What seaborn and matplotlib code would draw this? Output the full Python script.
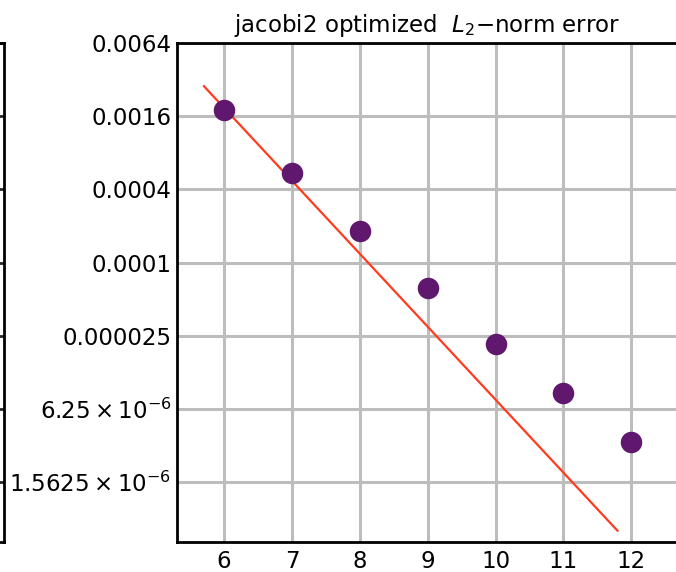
import numpy as np
import pandas as pd
import seaborn as sns
from matplotlib import pyplot as plt

# data
levels = [6, 7, 8, 9, 10, 11, 12]
l2_error = [0.0018, 0.000546, 0.000183, 0.0000618, 0.0000213, 0.00000845, 0.00000331]

# reference slope line (second order)
fit_x = [5.7, 11.8]
fit_y = [0.002834, 0.00000062]

ytick_vals = [0.0064, 0.0016, 0.0004, 0.0001, 0.000025, 6.25e-6, 1.5625e-6]
ytick_labels = ['0.0064', '0.0016', '0.0004', '0.0001', '0.000025',
                r'$6.25\times10^{-6}$', r'$1.5625\times10^{-6}$']
xtick_vals = [6, 7, 8, 9, 10, 11, 12]

sns.set_style('white')
plt.rcParams['font.family'] = ['DejaVu Sans']
plt.rcParams['mathtext.fontset'] = 'dejavusans'

df = pd.DataFrame({'level': levels, 'error': l2_error})
fit_df = pd.DataFrame({'level': fit_x, 'error': fit_y})

fig = plt.figure(figsize=(6.76, 5.72), dpi=100)

# neighbouring panel (only its right edge is visible)
ax0 = fig.add_axes([-0.5, 0.0524, 0.5055, 0.8724])
ax0.set_yscale('log', base=4)
ax0.set_ylim(5.02e-7, 0.0064)
ax0.set_yticks(ytick_vals)
ax0.minorticks_off()
ax0.yaxis.tick_right()
ax0.tick_params(axis='y', direction='in', length=4, width=2, labelright=False)
ax0.set_xticks([])
for s in ax0.spines.values():
    s.set_linewidth(2)
    s.set_color('black')

ax = fig.add_axes([0.2618, 0.0524, 0.7412, 0.8724])
ax.set_yscale('log', base=4)

sns.lineplot(data=fit_df, x='level', y='error', color='#ff3b1f', lw=1.6, ax=ax, zorder=3)
sns.scatterplot(data=df, x='level', y='error', color='#60186e', s=240, linewidth=0, ax=ax, zorder=4)

ax.set_xlim(5.305, 12.69)
ax.set_ylim(5.02e-7, 0.0064)
ax.set_xticks(xtick_vals)
ax.set_xticklabels([str(v) for v in xtick_vals])
ax.set_yticks(ytick_vals)
ax.set_yticklabels(ytick_labels)
ax.minorticks_off()
ax.grid(True, color='#bdbdbd', lw=2.2)
ax.set_axisbelow(True)
ax.tick_params(direction='in', length=4, width=2, labelsize=16.5, colors='black')
ax.tick_params(axis='y', pad=4)
ax.tick_params(axis='x', pad=5.5)
for s in ax.spines.values():
    s.set_linewidth(2)
    s.set_color('black')
ax.set_xlabel('')
ax.set_ylabel('')
ax.set_title(r'jacobi2 optimized  $L_2$$-$norm error', fontsize=16.5, pad=8, color='black')

fig.savefig('out.png', dpi=100)
